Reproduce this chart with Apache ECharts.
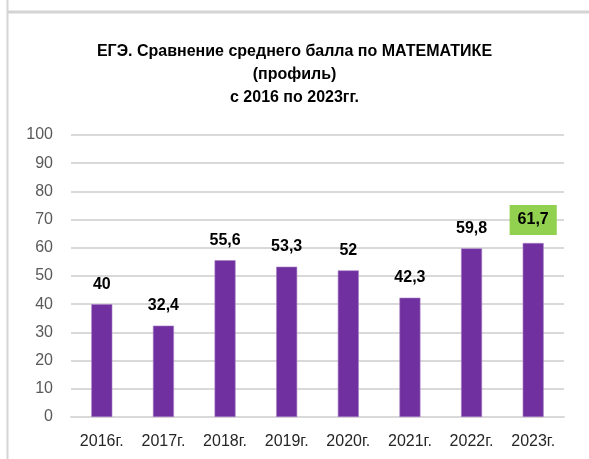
<!DOCTYPE html>
<html><head><meta charset="utf-8">
<script src="https://cdn.jsdelivr.net/npm/echarts@6/dist/echarts.min.js"></script>
<style>html,body{margin:0;padding:0;background:#fff}#c{width:589px;height:459px}</style>
</head><body><div id="c"></div>
<script>
const categories = ['2016г.','2017г.','2018г.','2019г.','2020г.','2021г.','2022г.','2023г.'];
const values = [40, 32.4, 55.6, 53.3, 52, 42.3, 59.8, 61.7];
const highlightIndex = 7;
const titleText = 'ЕГЭ. Сравнение среднего балла по МАТЕМАТИКЕ\n(профиль)\nс 2016 по 2023гг.';

const chart = echarts.init(document.getElementById('c'), null, {renderer:'canvas'});
const data = values.map((v,i)=>{
  const d = {value:v};
  if(i===highlightIndex){
    d.label = {backgroundColor:'#92d050', padding:[7,8,7,8], distance:8};
  }
  return d;
});
chart.setOption({
  animation:false,
  backgroundColor:'#fff',
  title:{
    text:titleText, left:'center', top:35,
    textStyle:{fontFamily:'Liberation Sans', fontWeight:'bold', fontSize:16, color:'#000', lineHeight:23}
  },
  graphic:[
    {type:'line', shape:{x1:7.5,y1:0,x2:7.5,y2:459}, style:{stroke:'#d4d4d4', lineWidth:2}},
    {type:'line', shape:{x1:7,y1:12,x2:589,y2:12}, style:{stroke:'#d4d4d4', lineWidth:3}}
  ],
  grid:{left:71, right:25, top:135, bottom:42},
  xAxis:{
    type:'category', data:categories,
    axisLine:{show:true, lineStyle:{color:'#d9d9d9', width:2}},
    axisTick:{show:false},
    axisLabel:{fontFamily:'Liberation Sans', fontSize:16, color:'#262626', margin:17}
  },
  yAxis:{
    type:'value', min:0, max:100, interval:10,
    axisLine:{show:false}, axisTick:{show:false},
    splitLine:{lineStyle:{color:'#d9d9d9', width:2}},
    axisLabel:{fontFamily:'Liberation Sans', fontSize:16, color:'#595959', margin:18}
  },
  series:[{
    type:'bar', data:data, barWidth:21,
    itemStyle:{color:'#7030a0', borderColor:'#a77fc4', borderWidth:0.6},
    label:{show:true, position:'top', distance:12,
      fontFamily:'Liberation Sans', fontWeight:'bold', fontSize:16, color:'#000',
      formatter:p=>String(p.value).replace('.',',')}
  }]
});
</script></body></html>
